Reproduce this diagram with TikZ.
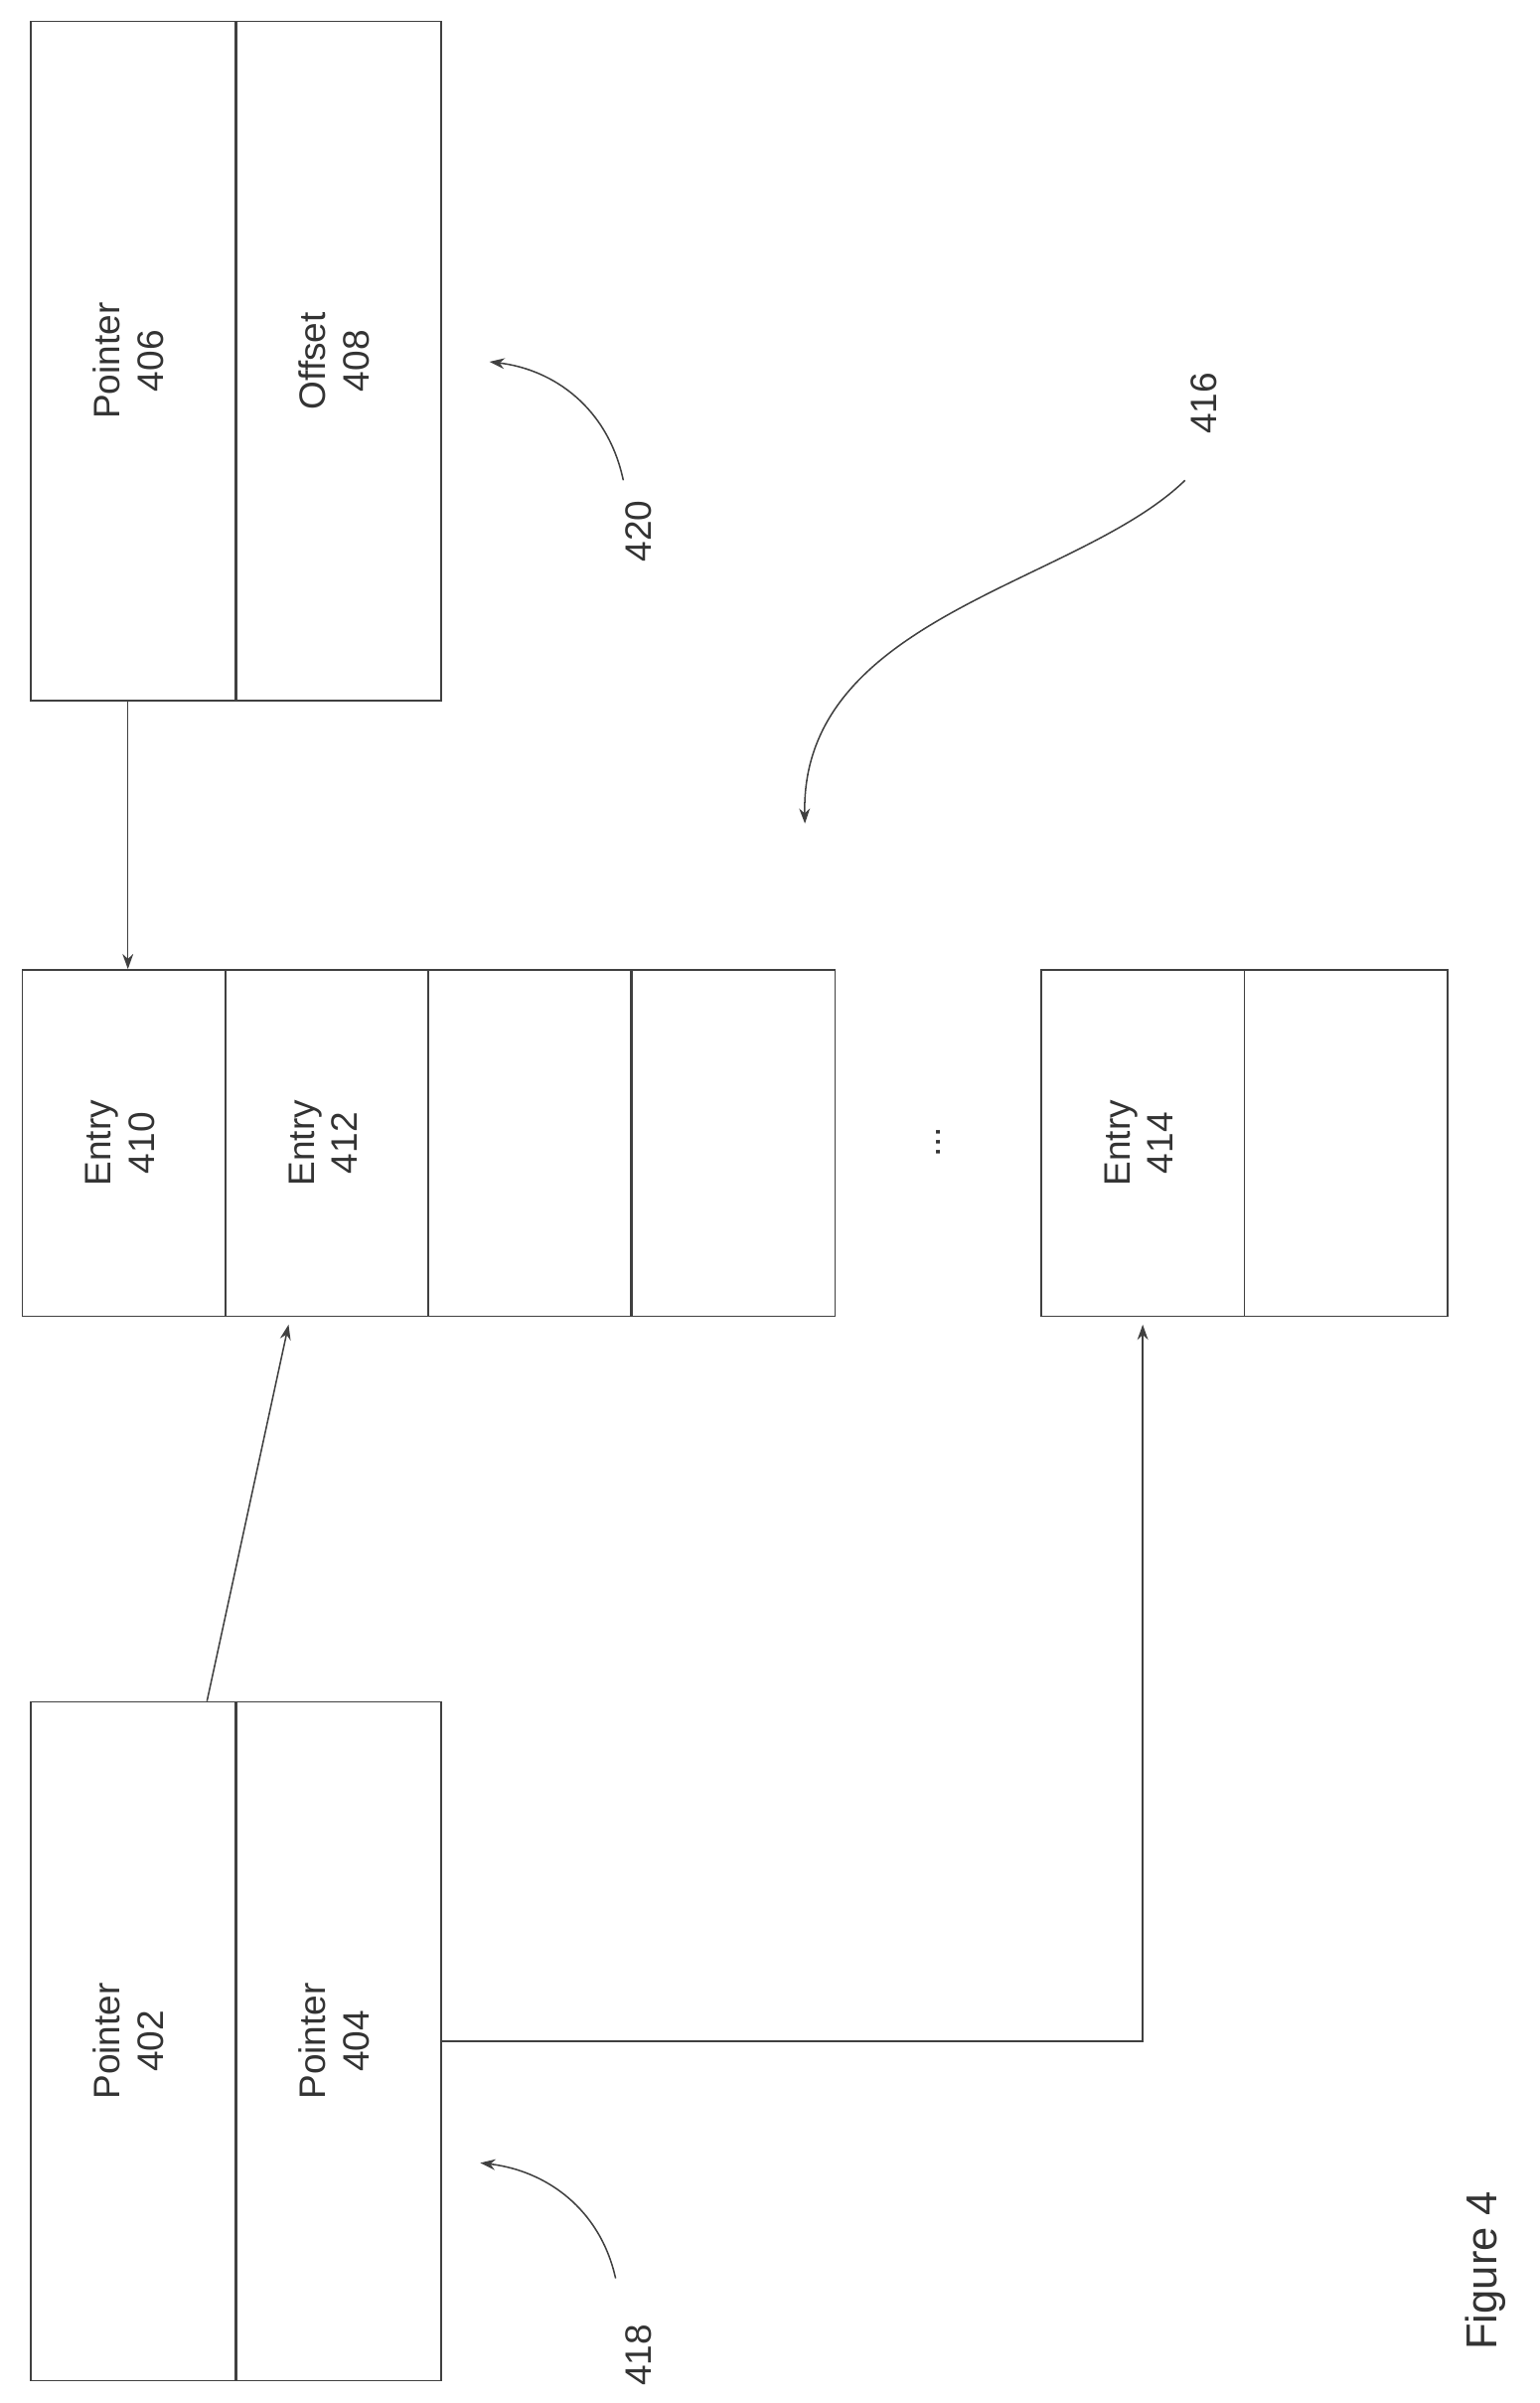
\documentclass[tikz,border=0pt]{standalone}
\usepackage{fontspec}
\setmainfont{Liberation Sans}
\usetikzlibrary{arrows.meta}
\begin{document}
\begin{tikzpicture}[x=0.05cm,y=-0.05cm,
  cell/.style={draw=black!75,line width=1.4pt,inner sep=0pt,font=\fontsize{34}{40}\selectfont,text=black!80,align=center},
  tall/.style={cell,minimum width=6.65cm,minimum height=22.05cm},
  mid/.style={cell,minimum width=6.6cm,minimum height=11.25cm},
  lbl/.style={font=\fontsize{34}{40}\selectfont,text=black!80,rotate=90},
  conn/.style={draw=black!75,line width=1.4pt,-{Stealth[length=14pt,width=10pt]}}]
\useasboundingbox (0,0) rectangle (1000,1561);
\node[tall] (p406) at (86.5,234.5) {\rotatebox{90}{\begin{tabular}{c}Pointer\\406\end{tabular}}};
\node[tall] (o408) at (220,234.5) {\rotatebox{90}{\begin{tabular}{c}Offset\\408\end{tabular}}};
\node[mid] (e410) at (80.5,742.5) {\rotatebox{90}{\begin{tabular}{c}Entry\\410\end{tabular}}};
\node[mid] (e412) at (212.5,742.5) {\rotatebox{90}{\begin{tabular}{c}Entry\\412\end{tabular}}};
\node[mid] (e3) at (344,742.5) {};
\node[mid] (e4) at (476.5,742.5) {};
\node[lbl] (dots) at (610,742) {...};
\node[mid] (e414) at (742.5,742.5) {\rotatebox{90}{\begin{tabular}{c}Entry\\414\end{tabular}}};
\node[mid] (e6) at (874.5,742.5) {};
\node[tall] (p402) at (86.5,1326) {\rotatebox{90}{\begin{tabular}{c}Pointer\\402\end{tabular}}};
\node[tall] (p404) at (220,1326) {\rotatebox{90}{\begin{tabular}{c}Pointer\\404\end{tabular}}};
\draw[conn] ([xshift=-0.17cm]p406.south) -- ([xshift=-0.17cm]p406.south |- e410.north);
\draw[conn] ([xshift=2.4cm]p402.north) -- ([xshift=-1.25cm,yshift=-0.25cm]e412.south);
\draw[conn] (p404.east) -| ([yshift=-0.25cm]e414.south);
\node[lbl] (l420) at (415,345) {420};
\coordinate (a420) at (405,312);
\coordinate (t420) at (318,235);
\draw[conn] (a420) .. controls (395,265) and (360,240) .. (t420);
\node[lbl] (l416) at (782,262) {416};
\coordinate (a416) at (770,312);
\coordinate (t416) at (523,535);
\draw[conn] (a416) .. controls (700,380) and (520,400) .. (t416);
\node[lbl] (l418) at (415,1530) {418};
\coordinate (a418) at (400,1480);
\coordinate (t418) at (312,1405);
\draw[conn] (a418) .. controls (390,1435) and (355,1410) .. (t418);
\node[lbl,font=\fontsize{40}{46}\selectfont] (fig) at (965,1475) {Figure 4};
\end{tikzpicture}
\end{document}
